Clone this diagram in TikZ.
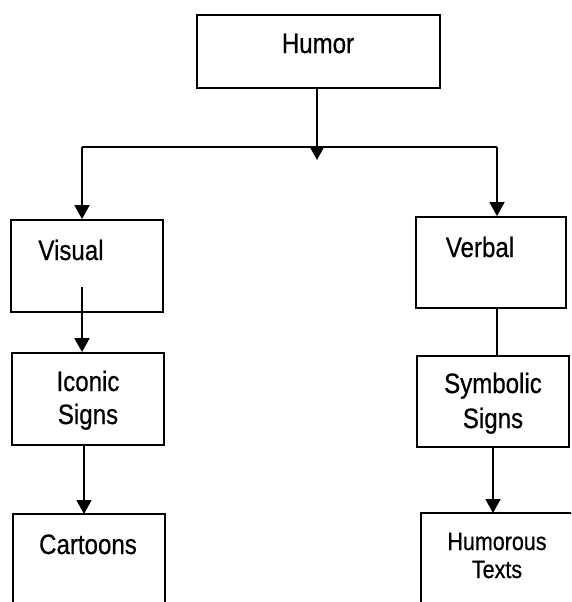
\documentclass[tikz,border=0pt]{standalone}
\usepackage{fontspec}
\setmainfont{Liberation Sans}[FakeStretch=0.86,FakeBold=0.6]
\usetikzlibrary{arrows.meta}
\begin{document}
\begin{tikzpicture}[x=1pt,y=-1pt,
  box/.style={draw,line width=1.8pt,minimum width=#1,inner sep=0pt},
  box/.default=152pt,
  txt/.style={inner sep=0pt,anchor=base,font=\fontsize{28}{33}\selectfont},
  txts/.style={inner sep=0pt,anchor=base,font=\fontsize{25}{29}\selectfont},
  conn/.style={line width=1.7pt},
  arr/.style={conn,-{Triangle[width=15pt,length=14pt]}}]
\useasboundingbox (0,0) rectangle (571,602);
\clip (0,0) rectangle (571,602);
% boxes
\node[box=243pt,minimum height=73pt] (humor) at (318.5,51.5) {};
\node[box,minimum height=92pt] (visual) at (87,266) {};
\node[box,minimum height=92pt] (iconic) at (88,399) {};
\node[box,minimum height=120pt] (cartoons) at (89,574) {};
\node[box=150pt,minimum height=91pt] (verbal) at (491,262.5) {};
\node[box,minimum height=91pt] (symbolic) at (493,401.5) {};
\node[box=160pt,minimum height=120pt] (humorous) at (501,573) {};
% texts
\node[txt] (tHumor) at (318,53) {Humor};
\node[txt] (tVisual) at (71,260) {Visual};
\node[txt] (tIconic) at (88,391) {Iconic};
\node[txt] (tSignsA) at (88,424) {Signs};
\node[txt] (tCartoons) at (88,554) {Cartoons};
\node[txt] (tVerbal) at (480,257) {Verbal};
\node[txt] (tSymbolic) at (493,393) {Symbolic};
\node[txt] (tSignsB) at (493,428) {Signs};
\node[txts] (tHumorous) at (497,550) {Humorous};
\node[txts] (tTexts) at (497,578) {Texts};
% connectors
\coordinate (jl) at (82,147);
\coordinate (jr) at (497,147);
\coordinate (jm) at (317,160);
\coordinate (vs) at (82,287);
\draw[conn] (jl) -- (jr);
\draw[arr] (humor.south -| jm) -- (jm);
\draw[arr] (jl) -- (jl |- visual.north);
\draw[arr] (jr) -- (jr |- verbal.north);
\draw[arr] (vs) -- (vs |- iconic.north);
\draw[arr] (84,445) -- (84,514);
\draw[conn] (verbal.south -| jr) -- (symbolic.north -| jr);
\draw[arr] (493,447) -- (493,513);
\end{tikzpicture}
\end{document}
